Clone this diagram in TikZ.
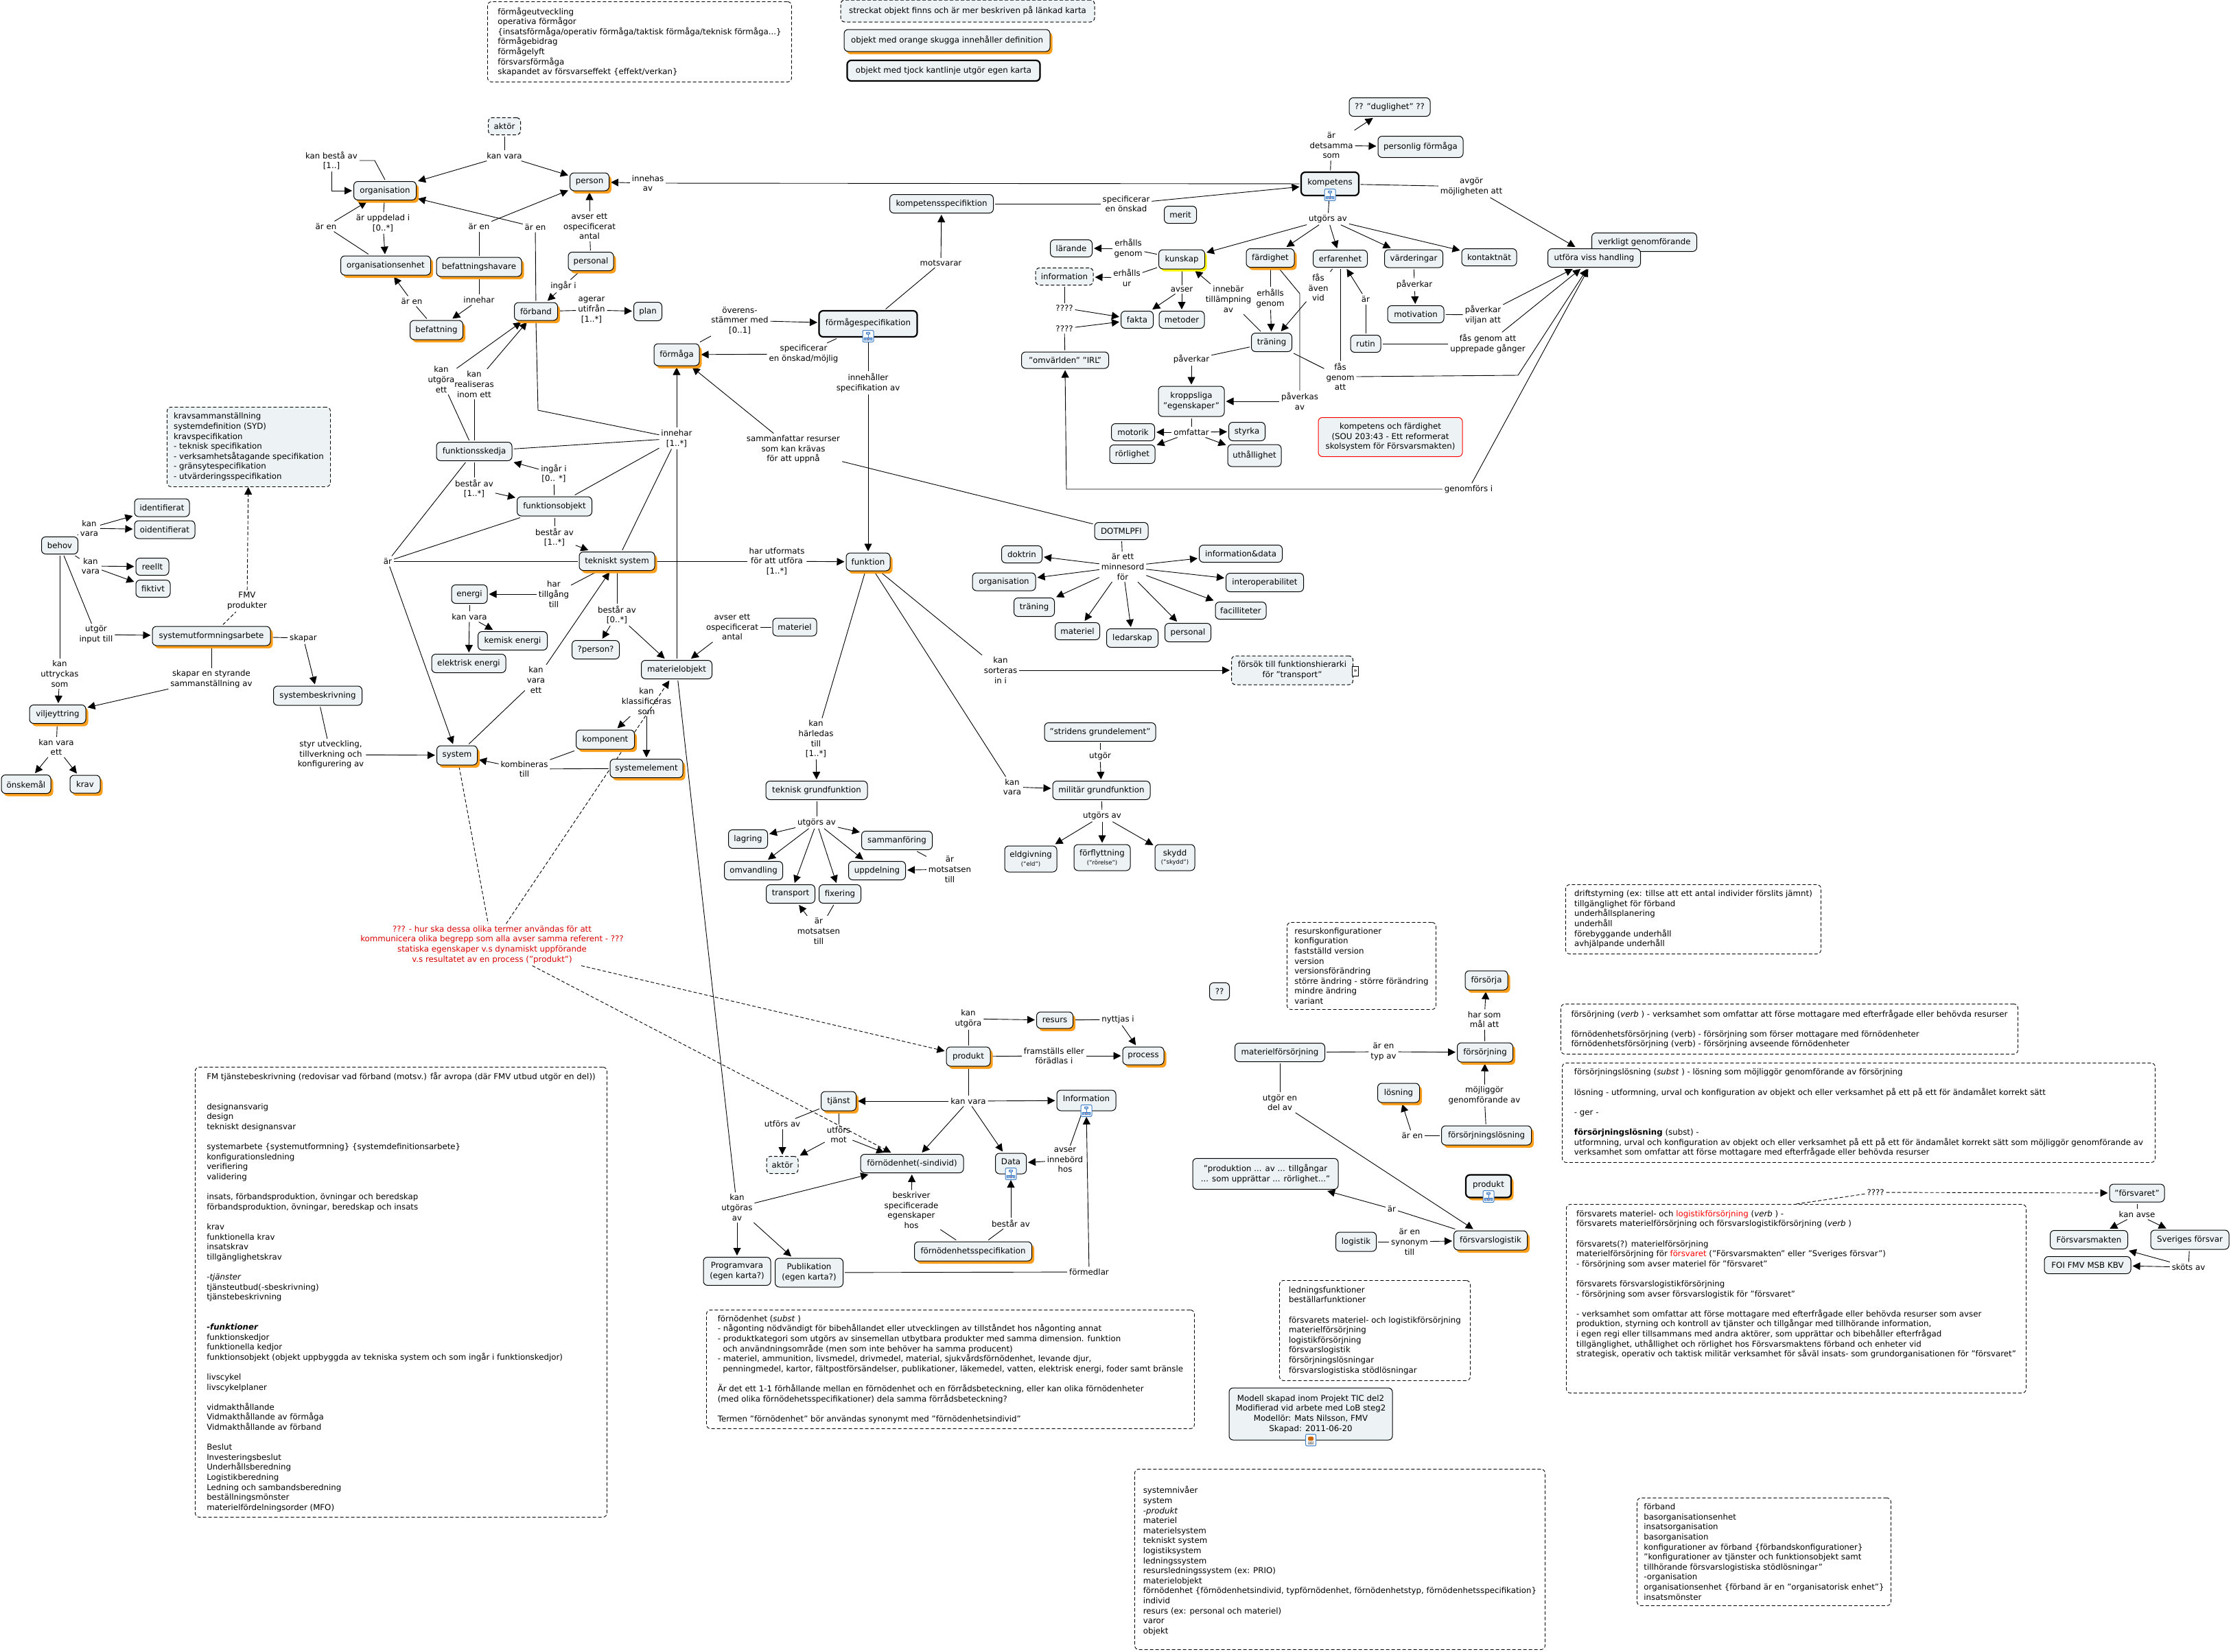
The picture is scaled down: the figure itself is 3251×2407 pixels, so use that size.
\documentclass[tikz,border=0pt]{standalone}
\usepackage{fontspec}
\setmainfont{DejaVu Sans}
\usetikzlibrary{arrows.meta,shadows,backgrounds}
\definecolor{conceptfill}{HTML}{EDF3F5}
\definecolor{shadoworange}{HTML}{FA9E1B}
\definecolor{mapblue}{HTML}{3F7FC8}
\newcommand{\smalltxt}{\fontsize{8.5}{9}\selectfont}
\tikzset{
  dashed/.style={dash pattern=on 5pt off 3pt},
  basefont/.style={font=\fontsize{11.8}{14.6}\selectfont},
  wh/.style 2 args={minimum width=#1pt, minimum height=#2pt},
  concept/.style={basefont, draw=black, fill=conceptfill, rounded corners=6pt, line width=1pt, align=center, inner sep=0pt, outer sep=2.5pt},
  shadowed/.style={general shadow={shadow xshift=3.5pt, shadow yshift=-4pt, fill=shadoworange, draw=none}},
  yellowed/.style={general shadow={shadow xshift=3pt, shadow yshift=-3.5pt, fill=yellow, draw=none}},
  defconcept/.style={concept, shadowed},
  mapconcept/.style={concept, line width=2.2pt},
  linkedconcept/.style={concept, dashed},
  notebox/.style={basefont, draw=black, dashed, fill=white, rounded corners=6pt, line width=.9pt, align=left, inner sep=0pt, anchor=north west},
  lbl/.style={basefont, align=center, inner sep=1pt, outer sep=2pt},
  redlbl/.style={lbl, text=red!85!black},
  link/.style={line width=.9pt},
  arr/.style={link, -{Triangle[length=11pt,width=11pt]}},
  mapicon/.style={draw=mapblue, fill=white, rounded corners=2pt, line width=1pt, inner sep=0pt, minimum width=16pt, minimum height=17pt,
    path picture={
      \draw[line width=.6pt, fill=mapblue!50] ([xshift=-2.5pt,yshift=2.5pt]path picture bounding box.center) rectangle ++(5pt,3.5pt);
      \draw[line width=.6pt] ([yshift=2.5pt]path picture bounding box.center) -- ([yshift=-2pt]path picture bounding box.center);
      \draw[line width=.6pt] ([xshift=-4.5pt,yshift=-2pt]path picture bounding box.center) -- ([xshift=4.5pt,yshift=-2pt]path picture bounding box.center);
      \draw[line width=.6pt, fill=mapblue!50] ([xshift=-6pt,yshift=-6pt]path picture bounding box.center) rectangle ++(3pt,3.5pt);
      \draw[line width=.6pt, fill=red!40] ([xshift=-1.5pt,yshift=-6pt]path picture bounding box.center) rectangle ++(3pt,3.5pt);
      \draw[line width=.6pt, fill=mapblue!50] ([xshift=3pt,yshift=-6pt]path picture bounding box.center) rectangle ++(3pt,3.5pt);
    }},
  docicon/.style={draw=mapblue, fill=white, rounded corners=2pt, line width=1pt, inner sep=0pt, minimum width=15pt, minimum height=17pt,
    path picture={
      \fill[black!70] ([xshift=-4pt,yshift=-6pt]path picture bounding box.center) rectangle ++(8pt,1pt);
      \fill[black!70] ([xshift=-4pt,yshift=-3.5pt]path picture bounding box.center) rectangle ++(8pt,1pt);
      \fill[orange!80!black] ([xshift=-4pt,yshift=-1pt]path picture bounding box.center) rectangle ++(8pt,6pt);
    }},
  moreicon/.style={draw=black, fill=white, line width=.7pt, inner sep=0pt, minimum width=9pt, minimum height=14pt, font=\fontsize{9}{9}\selectfont}
}
\begin{document}
\begin{tikzpicture}[x=1pt,y=-1pt]
  \useasboundingbox (0,0) rectangle (3251,2407);

  % Legend and the text boxes
  \node[concept, dashed, wh={370}{32}] (legendDashed) at (1410,16) {streckat objekt finns och är mer beskriven på länkad karta};
  \node[defconcept, wh={300}{32}] (legendOrange) at (1380,59) {objekt med orange skugga innehåller definition};
  \node[mapconcept, wh={281}{30}] (legendThick) at (1375,103) {objekt med tjock kantlinje utgör egen karta};

  \node[notebox, wh={443}{117}] (noteFormaga) at (710,2) {förmågeutveckling\\operativa förmågor\\\{insatsförmåga/operativ förmåga/taktisk förmåga/teknisk förmåga...\}\\förmågebidrag\\förmågelyft\\försvarsförmåga\\skapandet av försvarseffekt \{effekt/verkan\}};
  \node[notebox, fill=conceptfill, wh={238}{116}] (noteKrav) at (243,593) {kravsammanställning\\systemdefinition (SYD)\\kravspecifikation\\- teknisk specifikation\\- verksamhetsåtagande specifikation\\- gränsytespecifikation\\- utvärderingsspecifikation};
  \node[notebox, wh={600}{656}] (noteTjanst) at (284,1555) {FM tjänstebeskrivning (redovisar vad förband (motsv.) får avropa (där FMV utbud utgör en del))\\~\\~\\designansvarig\\design\\tekniskt designansvar\\~\\systemarbete \{systemutformning\} \{systemdefinitionsarbete\}\\konfigurationsledning\\verifiering\\validering\\~\\insats, förbandsproduktion, övningar och beredskap\\förbandsproduktion, övningar, beredskap och insats\\~\\krav\\funktionella krav\\insatskrav\\tillgänglighetskrav\\~\\-\textit{tjänster}\\tjänsteutbud(-sbeskrivning)\\tjänstebeskrivning\\~\\~\\\textbf{\textit{-funktioner}}\\funktionskedjor\\funktionella kedjor\\funktionsobjekt (objekt uppbyggda av tekniska system och som ingår i funktionskedjor)\\~\\livscykel\\livscykelplaner\\~\\vidmakthållande\\Vidmakthållande av förmåga\\Vidmakthållande av förband\\~\\Beslut\\Investeringsbeslut\\Underhållsberedning\\Logistikberedning\\Ledning och sambandsberedning\\beställningsmönster\\materielfördelningsorder (MFO)};
  \node[notebox, wh={711}{173}] (noteFornodenhet) at (1029,1909) {förnödenhet (\textit{subst} )\\- någonting nödvändigt för bibehållandet eller utvecklingen av tillståndet hos någonting annat\\- produktkategori som utgörs av sinsemellan utbytbara produkter med samma dimension. funktion\\\ \ och användningsområde (men som inte behöver ha samma producent)\\- materiel, ammunition, livsmedel, drivmedel, material, sjukvårdsförnödenhet, levande djur,\\\ \ penningmedel, kartor, fältpostförsändelser, publikationer, läkemedel, vatten, elektrisk energi, foder samt bränsle\\~\\Är det ett 1-1 förhållande mellan en förnödenhet och en förrådsbeteckning, eller kan olika förnödenheter\\(med olika förnödehetsspecifikationer) dela samma förrådsbeteckning?\\~\\Termen "förnödenhet" bör användas synonymt med "förnödenhetsindivid"};
  \node[notebox, wh={217}{127}] (noteResurs) at (1875,1344) {resurskonfigurationer\\konfiguration\\fastställd version\\version\\versionsförändring\\större ändring - större förändring\\mindre ändring\\variant};
  \node[notebox, wh={278}{146}] (noteLedning) at (1864,1866) {ledningsfunktioner\\beställarfunktioner\\~\\försvarets materiel- och logistikförsörjning\\materielförsörjning\\logistikförsörjning\\försvarslogistik\\försörjningslösningar\\försvarslogistiska stödlösningar};
  \node[notebox, wh={598}{263}] (noteSystem) at (1653,2141) {~\\systemnivåer\\system\\-\textit{produkt}\\materiel\\materielsystem\\tekniskt system\\logistiksystem\\ledningssystem\\resursledningssystem (ex: PRIO)\\materielobjekt\\förnödenhet \{förnödenhetsindivid, typförnödenhet, förnödenhetstyp, förnödenhetsspecifikation\}\\individ\\resurs (ex: personal och materiel)\\varor\\objekt};
  \node[notebox, wh={370}{157}] (noteForband) at (2385,2183) {förband\\basorganisationsenhet\\insatsorganisation\\basorganisation\\konfigurationer av förband \{förbandskonfigurationer\}\\"konfigurationer av tjänster och funktionsobjekt samt\\tillhörande försvarslogistiska stödlösningar"\\-organisation\\organisationsenhet \{förband är en "organisatorisk enhet"\}\\insatsmönster};
  \node[notebox, wh={372}{101}] (noteDrift) at (2281,1289) {driftstyrning (ex: tillse att ett antal individer förslits jämnt)\\tillgänglighet för förband\\underhållsplanering\\underhåll\\förebyggande underhåll\\avhjälpande underhåll};
  \node[notebox, wh={666}{73}] (noteForsorjning) at (2274,1463) {försörjning (\textit{verb} ) - verksamhet som omfattar att förse mottagare med efterfrågade eller behövda resurser\\~\\förnödenhetsförsörjning (verb) - försörjning som förser mottagare med förnödenheter\\förnödenhetsförsörjning (verb) - försörjning avseende förnödenheter};
  \node[notebox, wh={864}{145}] (noteLosning) at (2276,1549) {försörjningslösning (\textit{subst} ) - lösning som möjliggör genomförande av försörjning\\~\\lösning - utformning, urval och konfiguration av objekt och eller verksamhet på ett på ett för ändamålet korrekt sätt\\~\\- ger -\\~\\\textbf{försörjningslösning} (subst) -\\utformning, urval och konfiguration av objekt och eller verksamhet på ett på ett för ändamålet korrekt sätt som möjliggör genomförande av\\verksamhet som omfattar att förse mottagare med efterfrågade eller behövda resurser};
  \node[notebox, wh={670}{275}] (noteForsvaret) at (2282,1755) {försvarets materiel- och \textcolor{red}{logistikförsörjning} (\textit{verb} ) -\\försvarets materielförsörjning och försvarslogistikförsörjning (\textit{verb} )\\~\\försvarets(?) materielförsörjning\\materielförsörjning för \textcolor{red}{försvaret} ("Försvarsmakten" eller "Sveriges försvar")\\- försörjning som avser materiel för "försvaret"\\~\\försvarets försvarslogistikförsörjning\\- försörjning som avser försvarslogistik för "försvaret"\\~\\- verksamhet som omfattar att förse mottagare med efterfrågade eller behövda resurser som avser\\produktion, styrning och kontroll av tjänster och tillgångar med tillhörande information,\\i egen regi eller tillsammans med andra aktörer, som upprättar och bibehåller efterfrågad\\tillgänglighet, uthållighet och rörlighet hos Försvarsmaktens förband och enheter vid\\strategisk, operativ och taktisk militär verksamhet för såväl insats- som grundorganisationen för "försvaret"\\~\\~\\~};

  % Organisation and the units
  \node[linkedconcept, wh={47}{25}] (aktorTop) at (735,184) {aktör};
  \node[defconcept, wh={91}{27}] (organisation) at (561,278) {organisation};
  \node[defconcept, wh={57}{26}] (person) at (859,265) {person};
  \node[defconcept, wh={131}{28}] (orgenhet) at (562,387) {organisationsenhet};
  \node[defconcept, wh={124}{28}] (befhavare) at (698,389) {befattningshavare};
  \node[defconcept, wh={66}{27}] (personal) at (861,381) {personal};
  \node[defconcept, wh={63}{26}] (forband) at (781,454) {förband};
  \node[concept, wh={41}{27}] (plan) at (944,454) {plan};
  \node[defconcept, wh={77}{28}] (befattning) at (636,481) {befattning};
  \node[defconcept, wh={66}{32}] (formaga) at (986,517) {förmåga};

  % Functions and systems
  \node[concept, wh={110}{27}] (funkskedja) at (691,658) {funktionsskedja};
  \node[concept, wh={109}{28}] (funkobjekt) at (808,738) {funktionsobjekt};
  \node[defconcept, wh={110}{27}] (tekniskt) at (899,818) {tekniskt system};
  \node[concept, wh={52}{27}] (energi) at (684,866) {energi};
  \node[concept, wh={101}{27}] (kemisk) at (747,934) {kemisk energi};
  \node[concept, wh={108}{27}] (elektrisk) at (683,967) {elektrisk energi};
  \node[concept, wh={69}{27}] (qperson) at (868,947) {?person?};
  \node[concept, wh={103}{27}] (materielobj) at (986,976) {materielobjekt};
  \node[defconcept, wh={85}{28}] (komponent) at (882,1078) {komponent};
  \node[defconcept, wh={106}{27}] (syselement) at (942,1120) {systemelement};
  \node[defconcept, wh={59}{28}] (systemnod) at (666,1101) {system};

  % Needs and requirements
  \node[concept, wh={80}{26}] (identifierat) at (236,740) {identifierat};
  \node[concept, wh={88}{26}] (oidentifierat) at (240,772) {oidentifierat};
  \node[concept, wh={53}{25}] (behov) at (87,795) {behov};
  \node[concept, wh={48}{25}] (reellt) at (222,826) {reellt};
  \node[concept, wh={50}{25}] (fiktivt) at (223,858) {fiktivt};
  \node[defconcept, wh={172}{28}] (sysarbete) at (308,927) {systemutformningsarbete};
  \node[concept, wh={129}{28}] (sysbeskrivning) at (463,1014) {systembeskrivning};
  \node[defconcept, wh={82}{27}] (viljeyttring) at (84,1041) {viljeyttring};
  \node[defconcept, wh={72}{27}] (onskemal) at (38,1143) {önskemål};
  \node[defconcept, wh={44}{26}] (kravnod) at (124,1143) {krav};

  % Funktion and the DOTMLPFI family
  \node[defconcept, wh={64}{26}] (funktion) at (1265,819) {funktion};
  \node[concept, wh={64}{26}] (materiel) at (1158,914) {materiel};
  \node[concept, wh={78}{25}] (dotmlpfi) at (1634,774) {DOTMLPFI};
  \node[concept, wh={59}{25}] (doktrin) at (1489,808) {doktrin};
  \node[concept, wh={92}{26}] (dorganisation) at (1463,848) {organisation};
  \node[concept, wh={59}{27}] (dtraning) at (1507,885) {träning};
  \node[concept, wh={65}{25}] (dmateriel) at (1570,920) {materiel};
  \node[concept, wh={75}{27}] (ledarskap) at (1650,930) {ledarskap};
  \node[concept, wh={67}{27}] (dpersonal) at (1731,922) {personal};
  \node[concept, wh={74}{25}] (facilliteter) at (1808,890) {facilliteter};
  \node[concept, wh={113}{27}] (interop) at (1843,849) {interoperabilitet};
  \node[concept, wh={121}{25}] (infodata) at (1808,807) {information\&data};
  \node[linkedconcept, wh={177}{42}] (forsok) at (1883,977) {försök till funktionshierarki\\för "transport"};
  \node[moreicon] (iconForsok) at (1975,978) {»};
  \node[concept, wh={162}{27}] (stridens) at (1603,1067) {"stridens grundelement"};
  \node[concept, wh={148}{27}] (teknisk) at (1190,1152) {teknisk grundfunktion};
  \node[concept, wh={142}{27}] (militar) at (1605,1152) {militär grundfunktion};
  \node[concept, wh={57}{27}] (lagring) at (1090,1223) {lagring};
  \node[concept, wh={103}{27}] (sammanforing) at (1307,1225) {sammanföring};
  \node[concept, wh={85}{27}] (omvandling) at (1098,1269) {omvandling};
  \node[concept, wh={83}{27}] (uppdelning) at (1278,1269) {uppdelning};
  \node[concept, wh={71}{27}] (transport) at (1152,1303) {transport};
  \node[concept, wh={61}{27}] (fixering) at (1224,1303) {fixering};
  \node[concept, wh={76}{38}] (eldgivning) at (1502,1252) {eldgivning\\[-2pt]{\smalltxt("eld")}};
  \node[concept, wh={82}{38}] (forflyttning) at (1606,1250) {förflyttning\\[-2pt]{\smalltxt("rörelse")}};
  \node[concept, wh={58}{38}] (skydd) at (1712,1250) {skydd\\[-2pt]{\smalltxt("skydd")}};
  \node[concept, wh={29}{25}] (fragor) at (1777,1445) {??};

  % Competence
  \node[concept, wh={118}{27}] (duglighet) at (2025,156) {?? "duglighet" ??};
  \node[concept, wh={124}{31}] (personlig) at (2070,214) {personlig förmåga};
  \node[mapconcept, wh={84}{34}, text depth=6pt] (kompetens) at (1938,268) {kompetens};
  \node[mapicon] (iconKompetens) at (1938,284) {};
  \node[concept, wh={151}{27}] (kompspec) at (1372,297) {kompetensspecifiktion};
  \node[concept, wh={47}{25}] (merit) at (1720,313) {merit};
  \node[concept, wh={61}{25}] (larande) at (1561,362) {lärande};
  \node[concept, yellowed, wh={67}{28}] (kunskap) at (1722,378) {kunskap};
  \node[defconcept, wh={70}{27}] (fardighet) at (1851,376) {färdighet};
  \node[concept, wh={79}{25}] (erfarenhet) at (1953,377) {erfarenhet};
  \node[concept, wh={85}{26}] (varderingar) at (2060,377) {värderingar};
  \node[concept, wh={80}{25}] (kontaktnat) at (2170,375) {kontaktnät};
  \node[concept, wh={153}{27}] (verkligt) at (2396,353) {verkligt genomförande};
  \node[concept, wh={135}{27}] (utfora) at (2323,376) {utföra viss handling};
  \node[linkedconcept, wh={84}{25}] (information) at (1551,403) {information};
  \node[concept, wh={82}{25}] (motivation) at (2063,458) {motivation};
  \node[concept, wh={47}{25}] (fakta) at (1657,466) {fakta};
  \node[concept, wh={66}{25}] (metoder) at (1722,466) {metoder};
  \node[mapconcept, wh={143}{38}, text depth=6pt] (formagespec) at (1265,472) {förmågespecifikation};
  \node[mapicon] (iconFormagespec) at (1265,490) {};
  \node[concept, wh={59}{27}] (traning) at (1853,499) {träning};
  \node[concept, wh={44}{25}] (rutin) at (1990,501) {rutin};
  \node[concept, wh={127}{24}] (omvarlden) at (1552,525) {"omvärlden" "IRL"};
  \node[concept, wh={96}{44}] (kroppsliga) at (1736,585) {kroppsliga\\"egenskaper"};
  \node[concept, wh={63}{25}] (motorik) at (1651,630) {motorik};
  \node[concept, wh={53}{27}] (styrka) at (1817,629) {styrka};
  \node[concept, wh={66}{27}] (rorlighet) at (1650,662) {rörlighet};
  \node[concept, wh={78}{32}] (uthallighet) at (1828,664) {uthållighet};
  \node[concept, draw=red, wh={210}{57}] (kompnote) at (2026,637) {kompetens och färdighet\\(SOU 203:43 - Ett reformerat\\skolsystem för Försvarsmakten)};

  % Products and the supplies
  \node[defconcept, wh={53}{24}] (resurs) at (1537,1487) {resurs};
  \node[defconcept, wh={64}{28}] (produkt) at (1411,1540) {produkt};
  \node[defconcept, wh={60}{26}] (process) at (1666,1539) {process};
  \node[defconcept, wh={51}{28}] (tjanst) at (1222,1605) {tjänst};
  \node[concept, wh={86}{30}, text depth=6pt] (infonod) at (1583,1604) {Information};
  \node[mapicon] (iconInfo) at (1583,1619) {};
  \node[linkedconcept, wh={46}{25}] (aktorBot) at (1140,1698) {aktör};
  \node[concept, wh={150}{27}] (fornodenhet) at (1329,1696) {förnödenhet(-sindivid)};
  \node[concept, wh={45}{30}, text depth=6pt] (datanod) at (1473,1696) {Data};
  \node[mapicon] (iconData) at (1473,1711) {};
  \node[defconcept, wh={171}{28}] (fornspec) at (1418,1824) {förnödenhetsspecifikation};
  \node[concept, wh={98}{41}] (programvara) at (1074,1853) {Programvara\\(egen karta?)};
  \node[concept, wh={99}{42}] (publikation) at (1179,1855) {Publikation\\(egen karta?)};
  \node[concept, wh={131}{27}] (matforsorjning) at (1865,1534) {materielförsörjning};
  \node[concept, wh={212}{45}] (produktion) at (1844,1711) {"produktion ... av ... tillgångar\\... som upprättar ... rörlighet..."};
  \node[concept, wh={59}{28}] (logistik) at (1976,1810) {logistik};
  \node[concept, wh={238}{76}] (modell) at (1910,2061) {Modell skapad inom Projekt TIC del2\\Modifierad vid arbete med LoB steg2\\Modellör: Mats Nilsson, FMV\\Skapad: 2011-06-20};
  \node[docicon] (iconModell) at (1910,2099) {};
  \node[defconcept, wh={62}{28}] (forsorja) at (2166,1429) {försörja};
  \node[defconcept, wh={81}{28}] (forsorjning) at (2164,1534) {försörjning};
  \node[defconcept, wh={61}{28}] (losning) at (2038,1593) {lösning};
  \node[defconcept, wh={131}{28}] (forslosning) at (2166,1655) {försörjningslösning};
  \node[mapconcept, shadowed, wh={66}{33}, text depth=6pt] (produktmap) at (2169,1729) {produkt};
  \node[mapicon] (iconProdukt) at (2169,1744) {};
  \node[defconcept, wh={107}{28}] (forsvarslog) at (2172,1808) {försvarslogistik};
  \node[concept, wh={80}{26}] (forsvaret) at (3114,1739) {"försvaret"};
  \node[concept, wh={113}{27}] (fmakten) at (3044,1807) {Försvarsmakten};
  \node[concept, wh={114}{28}] (sveriges) at (3191,1807) {Sveriges försvar};
  \node[concept, wh={126}{25}] (foi) at (3042,1844) {FOI FMV MSB KBV};

  % Link labels
  \node[lbl] (lKanVaraTop) at (735,227) {kan vara};
  \node[lbl] (lKanBesta) at (483,234) {kan bestå av\\{[1..]}};
  \node[lbl] (lInnehas) at (944,267) {innehas\\av};
  \node[lbl] (lArEnOrg) at (475,330) {är en};
  \node[lbl] (lUppdelad) at (558,325) {är uppdelad i\\{[0..*]}};
  \node[lbl] (lArEnHav) at (698,330) {är en};
  \node[lbl] (lArEnForb) at (780,331) {är en};
  \node[lbl] (lAvserPers) at (859,330) {avser ett\\ospecificerat\\antal};
  \node[lbl] (lIngarForb) at (821,417) {ingår i};
  \node[lbl] (lArEnBef) at (600,439) {är en};
  \node[lbl] (lInneharBef) at (698,437) {innehar};
  \node[lbl] (lAgerar) at (862,452) {agerar\\utifrån\\{[1..*]}};
  \node[lbl] (lOverens) at (1078,467) {överens-\\stämmer med\\{[0..1]}};
  \node[lbl] (lUtgoraEtt) at (643,553) {kan\\utgöra\\ett};
  \node[lbl] (lRealiseras) at (691,560) {kan\\realiseras\\inom ett};
  \node[lbl] (lInnehar) at (986,639) {innehar\\{[1..*]}};
  \node[lbl] (lIngarSkedja) at (807,690) {ingår i\\{[0.. *]}};
  \node[lbl] (lBestarObj) at (691,712) {består av\\{[1..*]}};
  \node[lbl] (lBestarTek) at (808,783) {består av\\{[1..*]}};
  \node[lbl] (lKanVaraIden) at (130,770) {kan\\vara};
  \node[lbl] (lKanVaraReell) at (132,825) {kan\\vara};
  \node[lbl] (lArSys) at (565,818) {är};
  \node[lbl] (lHarUtformats) at (1132,818) {har utformats\\för att utföra\\{[1..*]}};
  \node[lbl] (lHarTillgang) at (807,866) {har\\tillgång\\till};
  \node[lbl] (lFmv) at (360,876) {FMV\\produkter};
  \node[lbl] (lKanVaraEnergi) at (684,899) {kan vara};
  \node[lbl] (lBestarMat) at (899,896) {består av\\{[0..*]}};
  \node[lbl] (lAvserMat) at (1067,914) {avser ett\\ospecificerat\\antal};
  \node[lbl] (lUtgorInput) at (140,925) {utgör\\input till};
  \node[lbl] (lSkapar) at (442,930) {skapar};
  \node[lbl] (lUttryckas) at (87,982) {kan\\uttryckas\\som};
  \node[lbl] (lSkaparStyr) at (308,990) {skapar en styrande\\sammanställning av};
  \node[lbl] (lKanVaraEtt) at (781,991) {kan\\vara\\ett};
  \node[lbl] (lKlassificeras) at (942,1022) {kan\\klassificeras\\som};
  \node[lbl] (lKanVaraOnsk) at (82,1089) {kan vara\\ett};
  \node[lbl] (lStyr) at (482,1100) {styr utveckling,\\tillverkning och\\konfigurering av};
  \node[lbl] (lKombineras) at (764,1121) {kombineras\\till};
  \node[redlbl] (lRed) at (717,1377) {??? - hur ska dessa olika termer användas för att\\kommunicera olika begrepp som alla avser samma referent - ???\\statiska egenskaper v.s dynamiskt uppförande\\v.s resultatet av en process ("produkt")};
  \node[lbl] (lMinnesord) at (1636,826) {är ett\\minnesord\\för};
  \node[lbl] (lSorteras) at (1458,977) {kan\\sorteras\\in i};
  \node[lbl] (lHarledas) at (1189,1077) {kan\\härledas\\till\\{[1..*]}};
  \node[lbl] (lUtgor) at (1603,1102) {utgör};
  \node[lbl] (lKanVaraMil) at (1475,1147) {kan\\vara};
  \node[lbl] (lUtgorsTek) at (1190,1199) {utgörs av};
  \node[lbl] (lUtgorsMil) at (1606,1189) {utgörs av};
  \node[lbl] (lMotsatsA) at (1384,1267) {är\\motsatsen\\till};
  \node[lbl] (lMotsatsB) at (1193,1357) {är\\motsatsen\\till};
  \node[lbl] (lDetsamma) at (1940,212) {är\\detsamma\\som};
  \node[lbl] (lAvgor) at (2144,272) {avgör\\möjligheten att};
  \node[lbl] (lSpecOnskad) at (1641,297) {specificerar\\en önskad};
  \node[lbl] (lUtgorsKomp) at (1935,319) {utgörs av};
  \node[lbl] (lErhallsGenom) at (1644,362) {erhålls\\genom};
  \node[lbl] (lMotsvarar) at (1371,383) {motsvarar};
  \node[lbl] (lErhallsUr) at (1642,405) {erhålls\\ur};
  \node[lbl] (lPaverkarMot) at (2061,415) {påverkar};
  \node[lbl] (lFasAven) at (1921,419) {fås\\även\\vid};
  \node[lbl] (lAvser) at (1722,422) {avser};
  \node[lbl] (lInnebar) at (1790,436) {innebär\\tillämpning\\av};
  \node[lbl] (lErhallsTran) at (1851,435) {erhålls\\genom};
  \node[lbl] (lAr) at (1990,436) {är};
  \node[lbl] (lFragorA) at (1551,449) {????};
  \node[lbl] (lViljan) at (2161,459) {påverkar\\viljan att};
  \node[lbl] (lFragorB) at (1551,479) {????};
  \node[lbl] (lUpprepade) at (2168,501) {fås genom att\\upprepade gånger};
  \node[lbl] (lSpecFormaga) at (1171,516) {specificerar\\en önskad/möjlig};
  \node[lbl] (lPaverkarKropp) at (1736,524) {påverkar};
  \node[lbl] (lFasGenom) at (1953,549) {fås\\genom\\att};
  \node[lbl] (lInnehaller) at (1265,558) {innehåller\\specifikation av};
  \node[lbl] (lPaverkas) at (1894,585) {påverkas\\av};
  \node[lbl] (lOmfattar) at (1736,630) {omfattar};
  \node[lbl] (lSammanfattar) at (1156,655) {sammanfattar resurser\\som kan krävas\\för att uppnå};
  \node[lbl] (lGenomfors) at (2140,713) {genomförs i};
  \node[lbl] (lKanUtgora) at (1411,1485) {kan\\utgöra};
  \node[lbl] (lNyttjas) at (1629,1486) {nyttjas i};
  \node[lbl] (lFramstalls) at (1536,1539) {framställs eller\\förädlas i};
  \node[lbl] (lKanVaraProd) at (1411,1605) {kan vara};
  \node[lbl] (lUtforsAv) at (1140,1638) {utförs av};
  \node[lbl] (lUtforsMot) at (1222,1654) {utförs\\mot};
  \node[lbl] (lInnebord) at (1552,1691) {avser\\innebörd\\hos};
  \node[lbl] (lUtgoras) at (1074,1760) {kan\\utgöras\\av};
  \node[lbl] (lBeskriver) at (1328,1764) {beskriver\\specificerade\\egenskaper\\hos};
  \node[lbl] (lBestarData) at (1473,1783) {består av};
  \node[lbl] (lFormedlar) at (1587,1854) {förmedlar};
  \node[lbl] (lTypAv) at (2016,1533) {är en\\typ av};
  \node[lbl] (lHarSom) at (2163,1486) {har som\\mål att};
  \node[lbl] (lMojliggor) at (2163,1597) {möjliggör\\genomförande av};
  \node[lbl] (lDelAv) at (1865,1607) {utgör en\\del av};
  \node[lbl] (lArEnLos) at (2058,1655) {är en};
  \node[lbl] (lArProd) at (2028,1762) {är};
  \node[lbl] (lSynonym) at (2054,1810) {är en\\synonym\\till};
  \node[lbl] (lFragorC) at (2733,1738) {????};
  \node[lbl] (lKanAvse) at (3114,1770) {kan avse};
  \node[lbl] (lSkots) at (3189,1847) {sköts av};

  % Connectors, under the boxes
  \begin{scope}[on background layer]
    \draw[link] (aktorTop) -- (lKanVaraTop);
    \draw[arr] (lKanVaraTop) -- (organisation);
    \draw[arr] (lKanVaraTop) -- (person);
    \draw[link] (organisation.north) -- (546,234) -- (lKanBesta);
    \draw[arr] (lKanBesta.south) -- (483,278) -- (organisation.west);
    \draw[link] (kompetens) -- (lInnehas);
    \draw[arr] (lInnehas) -- (person);
    \draw[link] (orgenhet) -- (lArEnOrg);
    \draw[arr] (lArEnOrg) -- (organisation);
    \draw[link] (organisation) -- (lUppdelad);
    \draw[arr] (lUppdelad) -- (orgenhet);
    \draw[link] (befhavare) -- (lArEnHav);
    \draw[arr] (lArEnHav) -- (person);
    \draw[link] (forband) -- (lArEnForb);
    \draw[arr] (lArEnForb) -- (organisation);
    \draw[link] (personal) -- (lAvserPers);
    \draw[arr] (lAvserPers) -- (person);
    \draw[link] (personal) -- (lIngarForb);
    \draw[arr] (lIngarForb) -- (forband);
    \draw[link] (befhavare) -- (lInneharBef);
    \draw[arr] (lInneharBef) -- (befattning);
    \draw[link] (befattning) -- (lArEnBef);
    \draw[arr] (lArEnBef) -- (orgenhet);
    \draw[link] (forband) -- (lAgerar);
    \draw[arr] (lAgerar) -- (plan);
    \draw[link] (funkskedja) -- (lUtgoraEtt);
    \draw[arr] (lUtgoraEtt) -- (forband);
    \draw[link] (funkskedja) -- (lRealiseras);
    \draw[arr] (lRealiseras) -- (forband);
    \draw[link] (forband.south) -- (784,598) -- (lInnehar);
    \draw[link] (funkskedja) -- (lInnehar);
    \draw[link] (funkobjekt) -- (lInnehar);
    \draw[link] (tekniskt) -- (lInnehar);
    \draw[link] (materielobj) -- (lInnehar);
    \draw[arr] (lInnehar) -- (formaga);
    \draw[link] (funkskedja) -- (lBestarObj);
    \draw[arr] (lBestarObj) -- (funkobjekt);
    \draw[link] (funkobjekt) -- (lIngarSkedja);
    \draw[arr] (lIngarSkedja) -- (funkskedja);
    \draw[link] (funkobjekt) -- (lBestarTek);
    \draw[arr] (lBestarTek) -- (tekniskt);
    \draw[link] (funkskedja) -- (lArSys);
    \draw[link] (funkobjekt) -- (lArSys);
    \draw[link] (tekniskt) -- (lArSys);
    \draw[arr] (lArSys) -- (systemnod);
    \draw[link] (behov) -- (lKanVaraIden);
    \draw[arr] (lKanVaraIden) -- (identifierat);
    \draw[arr] (lKanVaraIden) -- (oidentifierat);
    \draw[link] (behov) -- (lKanVaraReell);
    \draw[arr] (lKanVaraReell) -- (reellt);
    \draw[arr] (lKanVaraReell) -- (fiktivt);
    \draw[link] (behov) -- (lUtgorInput);
    \draw[arr] (lUtgorInput) -- (sysarbete);
    \draw[link] (behov) -- (lUttryckas);
    \draw[arr] (lUttryckas) -- (viljeyttring);
    \draw[link, dashed] (sysarbete) -- (lFmv);
    \draw[arr, dashed] (lFmv) -- (noteKrav);
    \draw[link] (sysarbete) -- (lSkapar);
    \draw[arr] (lSkapar) -- (sysbeskrivning);
    \draw[link] (sysarbete) -- (lSkaparStyr);
    \draw[arr] (lSkaparStyr) -- (viljeyttring);
    \draw[link] (viljeyttring) -- (lKanVaraOnsk);
    \draw[arr] (lKanVaraOnsk) -- (onskemal);
    \draw[arr] (lKanVaraOnsk) -- (kravnod);
    \draw[link] (sysbeskrivning) -- (lStyr);
    \draw[arr] (lStyr) -- (systemnod);
    \draw[link] (systemnod) -- (lKanVaraEtt);
    \draw[arr] (lKanVaraEtt) -- (tekniskt);
    \draw[link] (tekniskt) -- (lHarTillgang);
    \draw[arr] (lHarTillgang) -- (energi);
    \draw[link] (energi) -- (lKanVaraEnergi);
    \draw[arr] (lKanVaraEnergi) -- (kemisk);
    \draw[arr] (lKanVaraEnergi) -- (elektrisk);
    \draw[link] (tekniskt) -- (lBestarMat);
    \draw[arr] (lBestarMat) -- (qperson);
    \draw[arr] (lBestarMat) -- (materielobj);
    \draw[link] (materiel) -- (lAvserMat);
    \draw[arr] (lAvserMat) -- (materielobj);
    \draw[arr] (lKlassificeras) -- (komponent);
    \draw[arr] (lKlassificeras) -- (syselement);
    \draw[link] (komponent) -- (lKombineras);
    \draw[link] (syselement) -- (lKombineras);
    \draw[arr] (lKombineras) -- (systemnod);
    \draw[link, dashed] (systemnod) -- (lRed);
    \draw[arr, dashed] (lRed) -- (materielobj);
    \draw[arr, dashed] (lRed) -- (produkt);
    \draw[arr, dashed] (lRed) -- (fornodenhet);
    \draw[link] (materielobj) -- (lUtgoras);
    \draw[arr] (lUtgoras) -- (programvara);
    \draw[arr] (lUtgoras) -- (publikation);
    \draw[arr] (lUtgoras) -- (fornodenhet);
    \draw[link] (tekniskt) -- (lHarUtformats);
    \draw[arr] (lHarUtformats) -- (funktion);
    \draw[link] (formagespec) -- (lInnehaller);
    \draw[arr] (lInnehaller) -- (funktion);
    \draw[link] (funktion) -- (lHarledas);
    \draw[arr] (lHarledas) -- (teknisk);
    \draw[link] (funktion) -- (lKanVaraMil);
    \draw[arr] (lKanVaraMil) -- (militar);
    \draw[link] (funktion) -- (lSorteras);
    \draw[arr] (lSorteras) -- (forsok);
    \draw[link] (stridens) -- (lUtgor);
    \draw[arr] (lUtgor) -- (militar);
    \draw[link] (teknisk) -- (lUtgorsTek);
    \draw[arr] (lUtgorsTek) -- (lagring);
    \draw[arr] (lUtgorsTek) -- (sammanforing);
    \draw[arr] (lUtgorsTek) -- (omvandling);
    \draw[arr] (lUtgorsTek) -- (uppdelning);
    \draw[arr] (lUtgorsTek) -- (transport);
    \draw[arr] (lUtgorsTek) -- (fixering);
    \draw[link] (militar) -- (lUtgorsMil);
    \draw[arr] (lUtgorsMil) -- (eldgivning);
    \draw[arr] (lUtgorsMil) -- (forflyttning);
    \draw[arr] (lUtgorsMil) -- (skydd);
    \draw[link] (sammanforing) -- (lMotsatsA);
    \draw[arr] (lMotsatsA) -- (uppdelning);
    \draw[link] (fixering) -- (lMotsatsB);
    \draw[arr] (lMotsatsB) -- (transport);
    \draw[link] (dotmlpfi) -- (lMinnesord);
    \draw[arr] (lMinnesord) -- (doktrin);
    \draw[arr] (lMinnesord) -- (dorganisation);
    \draw[arr] (lMinnesord) -- (dtraning);
    \draw[arr] (lMinnesord) -- (dmateriel);
    \draw[arr] (lMinnesord) -- (ledarskap);
    \draw[arr] (lMinnesord) -- (dpersonal);
    \draw[arr] (lMinnesord) -- (facilliteter);
    \draw[arr] (lMinnesord) -- (interop);
    \draw[arr] (lMinnesord) -- (infodata);
    \draw[link] (dotmlpfi) -- (lSammanfattar);
    \draw[arr] (lSammanfattar) -- (formaga);
    \draw[link] (formaga) -- (lOverens);
    \draw[arr] (lOverens) -- (formagespec);
    \draw[link] (formagespec) -- (lSpecFormaga);
    \draw[arr] (lSpecFormaga) -- (formaga);
    \draw[link] (formagespec) -- (lMotsvarar);
    \draw[arr] (lMotsvarar) -- (kompspec);
    \draw[link] (kompspec) -- (lSpecOnskad);
    \draw[arr] (lSpecOnskad) -- (kompetens);
    \draw[link] (kompetens) -- (lDetsamma);
    \draw[arr] (lDetsamma) -- (duglighet);
    \draw[arr] (lDetsamma) -- (personlig);
    \draw[link] (kompetens) -- (lAvgor);
    \draw[arr] (lAvgor) -- (utfora);
    \draw[link] (kompetens) -- (lUtgorsKomp);
    \draw[arr] (lUtgorsKomp) -- (kunskap);
    \draw[arr] (lUtgorsKomp) -- (fardighet);
    \draw[arr] (lUtgorsKomp) -- (erfarenhet);
    \draw[arr] (lUtgorsKomp) -- (varderingar);
    \draw[arr] (lUtgorsKomp) -- (kontaktnat);
    \draw[link] (kunskap) -- (lErhallsGenom);
    \draw[arr] (lErhallsGenom) -- (larande);
    \draw[link] (kunskap) -- (lErhallsUr);
    \draw[arr] (lErhallsUr) -- (information);
    \draw[link] (kunskap) -- (lAvser);
    \draw[arr] (lAvser) -- (fakta);
    \draw[arr] (lAvser) -- (metoder);
    \draw[link] (traning) -- (lInnebar);
    \draw[arr] (lInnebar) -- (kunskap);
    \draw[link] (fardighet) -- (lErhallsTran);
    \draw[arr] (lErhallsTran) -- (traning);
    \draw[link] (erfarenhet) -- (lFasAven);
    \draw[arr] (lFasAven) -- (traning);
    \draw[link] (fardighet) -- (1894,428) -- (lPaverkas);
    \draw[arr] (lPaverkas) -- (kroppsliga);
    \draw[link] (rutin) -- (lAr);
    \draw[arr] (lAr) -- (erfarenhet);
    \draw[link] (erfarenhet) -- (lFasGenom);
    \draw[link] (traning) -- (lFasGenom);
    \draw[arr] (lFasGenom.east) -- (2212,547) -- (utfora);
    \draw[link] (varderingar) -- (lPaverkarMot);
    \draw[arr] (lPaverkarMot) -- (motivation);
    \draw[link] (motivation) -- (lViljan);
    \draw[arr] (lViljan) -- (utfora);
    \draw[link] (rutin) -- (lUpprepade);
    \draw[arr] (lUpprepade) -- (utfora);
    \draw[link] (traning) -- (lPaverkarKropp);
    \draw[arr] (lPaverkarKropp) -- (kroppsliga);
    \draw[link] (kroppsliga) -- (lOmfattar);
    \draw[arr] (lOmfattar) -- (motorik);
    \draw[arr] (lOmfattar) -- (styrka);
    \draw[arr] (lOmfattar) -- (rorlighet);
    \draw[arr] (lOmfattar) -- (uthallighet);
    \draw[link] (information) -- (lFragorA);
    \draw[arr] (lFragorA) -- (fakta);
    \draw[link] (omvarlden) -- (lFragorB);
    \draw[arr] (lFragorB) -- (fakta);
    \draw[arr] (lGenomfors) -- (utfora);
    \draw[arr] (lGenomfors.west) -- (1554,713) -- (omvarlden.south);
    \draw[link] (produkt) -- (lKanUtgora);
    \draw[arr] (lKanUtgora) -- (resurs);
    \draw[link] (resurs) -- (lNyttjas);
    \draw[arr] (lNyttjas) -- (process);
    \draw[link] (produkt) -- (lFramstalls);
    \draw[arr] (lFramstalls) -- (process);
    \draw[link] (produkt) -- (lKanVaraProd);
    \draw[arr] (lKanVaraProd) -- (tjanst);
    \draw[arr] (lKanVaraProd) -- (infonod);
    \draw[arr] (lKanVaraProd) -- (fornodenhet);
    \draw[arr] (lKanVaraProd) -- (datanod);
    \draw[link] (tjanst) -- (lUtforsAv);
    \draw[arr] (lUtforsAv) -- (aktorBot);
    \draw[link] (tjanst) -- (lUtforsMot);
    \draw[arr] (lUtforsMot) -- (aktorBot);
    \draw[arr] (lUtforsMot) -- (fornodenhet);
    \draw[link] (infonod) -- (lInnebord);
    \draw[arr] (lInnebord) -- (datanod);
    \draw[link] (fornspec) -- (lBeskriver);
    \draw[arr] (lBeskriver) -- (fornodenhet);
    \draw[link] (fornspec) -- (lBestarData);
    \draw[arr] (lBestarData) -- (iconData);
    \draw[link] (publikation) -- (lFormedlar);
    \draw[arr] (lFormedlar) -- (iconInfo);
    \draw[link] (matforsorjning) -- (lTypAv);
    \draw[arr] (lTypAv) -- (forsorjning);
    \draw[link] (forsorjning) -- (lHarSom);
    \draw[arr] (lHarSom) -- (forsorja);
    \draw[link] (forslosning) -- (lMojliggor);
    \draw[arr] (lMojliggor) -- (forsorjning);
    \draw[link] (forslosning) -- (lArEnLos);
    \draw[arr] (lArEnLos) -- (losning);
    \draw[link] (matforsorjning) -- (lDelAv);
    \draw[arr] (lDelAv) -- (forsvarslog);
    \draw[link] (forsvarslog) -- (lArProd);
    \draw[arr] (lArProd) -- (produktion);
    \draw[link] (logistik) -- (lSynonym);
    \draw[arr] (lSynonym) -- (forsvarslog);
    \draw[link, dashed] (noteForsvaret.north) -- (lFragorC);
    \draw[arr, dashed] (lFragorC) -- (forsvaret);
    \draw[link] (forsvaret) -- (lKanAvse);
    \draw[arr] (lKanAvse) -- (fmakten);
    \draw[arr] (lKanAvse) -- (sveriges);
    \draw[link] (sveriges) -- (lSkots);
    \draw[arr] (lSkots) -- (fmakten);
    \draw[arr] (lSkots) -- (foi);
  \end{scope}
\end{tikzpicture}
\end{document}
